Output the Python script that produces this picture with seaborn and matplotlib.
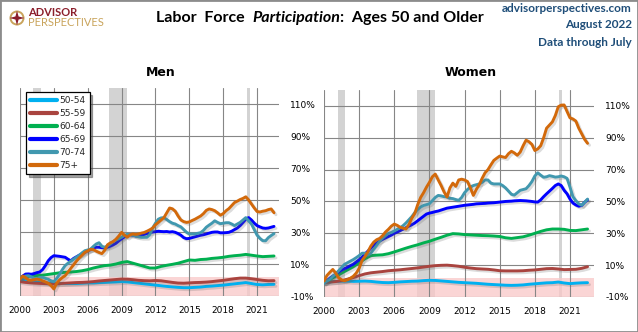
import numpy as np
import pandas as pd
import matplotlib
matplotlib.use("Agg")
import matplotlib.pyplot as plt
import matplotlib.patheffects as pe
from matplotlib.lines import Line2D
from matplotlib.patches import Circle, Polygon, Rectangle
import seaborn as sns

# ---------------------------------------------------------------------------
# Data: cumulative change in labor force participation since January 2000 (%)
# ---------------------------------------------------------------------------
quarters = pd.date_range("2000-01-01", "2022-07-01", freq="QS")   # 91 points
halves = pd.date_range("2000-01-01", "2022-07-01", freq="6MS")    # 46 points

age_groups = ["50-54", "55-59", "60-64", "65-69", "70-74", "75+"]
year_ticks = [2000, 2003, 2006, 2009, 2012, 2015, 2018, 2021]
pct_ticks = [-10, 10, 30, 50, 70, 90, 110]
recessions = [(2001.17, 2001.83), (2007.92, 2009.45), (2020.08, 2020.33)]

# Men, semiannual
men_50_54 = [0.0, -0.5, -0.8, -1.2, -1.5, -1.8, -2.0, -2.1, -2.2, -2.2,
             -2.2, -2.0, -1.8, -1.8, -1.6, -1.5, -1.3, -1.2, -1.0, -1.2,
             -1.6, -2.0, -2.4, -2.8, -3.2, -3.6, -4.0, -4.3, -4.6, -4.8,
             -4.8, -4.6, -4.4, -4.0, -3.8, -3.5, -3.2, -2.8, -2.4, -2.0,
             -1.6, -2.2, -2.8, -3.0, -2.8, -2.7]
men_55_59 = [-1.0, -1.5, -1.8, -2.0, -2.2, -2.3, -2.5, -2.3, -2.0, -1.8,
             -1.6, -1.5, -1.3, -1.0, -0.6, -0.3, 0.0, 0.3, 0.6, 0.5,
             0.2, -0.2, -0.4, -0.5, -0.3, -0.5, -1.0, -1.5, -1.9, -2.0,
             -1.8, -1.6, -1.5, -1.3, -1.0, -0.6, -0.2, 0.3, 0.8, 1.2,
             1.2, 0.8, 0.3, -0.2, -0.5, -0.4]
men_60_64 = [1.5, 2.0, 2.5, 2.8, 3.0, 3.5, 4.0, 4.5, 4.8, 5.0,
             5.3, 5.8, 6.5, 7.5, 8.3, 9.0, 9.3, 10.0, 11.0, 11.5,
             10.5, 9.5, 8.5, 7.5, 7.5, 8.5, 9.2, 9.8, 10.5, 11.5,
             12.5, 12.3, 12.8, 13.0, 13.5, 13.8, 14.2, 14.8, 15.2, 15.5,
             16.0, 15.5, 15.0, 14.6, 14.8, 15.0]

# Men, quarterly
men_65_69 = [1.0, 2.5, 3.7, 3.8, 3.6, 4.0, 4.6, 5.0,
             6.5, 9.0, 12.0, 14.0, 15.2, 15.0, 14.8, 14.5,
             14.2, 13.0, 12.0, 13.5, 14.5, 15.5, 16.3, 17.3,
             18.3, 19.0, 20.0, 20.5, 20.5, 20.2, 20.0, 20.5,
             21.2, 22.0, 23.0, 24.5, 25.8, 27.0, 28.0, 28.3,
             28.0, 27.5, 27.5, 28.0, 28.5, 29.0, 29.5, 30.0,
             30.2, 30.5, 30.3, 30.2, 30.3, 30.0, 30.2, 29.8,
             29.0, 28.0, 26.5, 25.8, 26.0, 26.5, 27.0, 27.5,
             28.0, 28.3, 28.8, 29.3, 29.8, 30.0, 30.0, 29.5,
             29.5, 29.6, 29.8, 30.5, 31.5, 32.5, 34.0, 36.0,
             38.0, 39.0, 37.5, 35.5, 34.0, 33.2, 32.5, 32.3,
             32.5, 33.0, 33.5]
men_70_74 = [1.5, 2.0, 2.5, 2.7, 2.0, 1.0, 0.8, 1.5,
             1.7, 1.0, 0.5, -0.5, -1.0, 1.0, 3.5, 6.5,
             9.0, 10.5, 11.8, 13.0, 14.3, 15.5, 17.0, 18.3,
             18.8, 19.3, 21.0, 22.5, 23.3, 21.0, 20.5, 21.3,
             22.5, 24.0, 25.0, 25.8, 26.7, 27.8, 28.6, 28.3,
             28.0, 27.5, 27.0, 26.7, 26.7, 26.7, 28.5, 32.5,
             35.5, 38.0, 38.8, 39.0, 37.8, 36.5, 35.5, 35.0,
             34.0, 33.2, 31.5, 29.8, 28.8, 28.8, 28.8, 29.2,
             29.6, 31.0, 33.0, 34.3, 35.5, 37.0, 36.0, 35.2,
             35.5, 35.8, 35.8, 35.0, 34.0, 35.0, 36.0, 37.5,
             39.0, 37.0, 35.0, 31.5, 28.0, 26.0, 24.6, 24.5,
             26.5, 27.8, 29.0]
men_75_plus = [0.6, 2.5, 1.5, 0.0, -0.2, 0.2, 0.6, 0.2,
               -0.5, -1.2, -2.0, -3.5, -5.6, -2.0, 0.0, 1.5,
               2.7, 5.0, 7.3, 9.5, 11.8, 13.8, 15.5, 17.3,
               18.2, 19.2, 19.0, 18.0, 17.2, 16.5, 18.5, 22.0,
               23.2, 24.0, 25.5, 27.5, 29.8, 28.0, 26.8, 28.2,
               28.8, 28.5, 28.8, 29.3, 29.7, 30.5, 31.4, 32.5,
               34.5, 36.0, 37.5, 39.0, 42.0, 45.0, 44.5, 43.0,
               40.0, 37.5, 36.5, 36.0, 36.3, 37.2, 38.0, 39.0,
               40.0, 41.5, 43.5, 44.4, 44.0, 43.3, 42.0, 40.5,
               41.5, 43.3, 44.6, 46.5, 48.4, 49.3, 50.3, 51.0,
               52.0, 50.0, 47.5, 45.0, 42.8, 42.5, 43.0, 43.3,
               44.0, 44.4, 42.0]

# Women, semiannual
women_50_54 = [-1.0, -0.5, -0.2, 0.0, 0.0, -0.2, -0.1, 0.0, -0.2, -0.6,
               -0.9, -1.0, -0.8, -0.5, -0.3, -0.1, 0.0, 0.3, 0.5, 0.4,
               0.1, -0.2, -0.5, -0.8, -1.0, -1.2, -1.4, -1.7, -2.0, -2.2,
               -2.4, -2.6, -2.7, -2.6, -2.4, -2.0, -1.7, -1.4, -1.1, -1.0,
               -0.6, -1.2, -1.6, -1.3, -1.1, -1.0]
women_55_59 = [-1.0, -0.6, -0.3, 0.2, 1.2, 2.2, 3.4, 4.5, 5.2, 5.6,
               6.0, 6.5, 6.8, 7.1, 7.5, 7.9, 8.3, 8.8, 9.3, 9.7,
               9.9, 10.0, 9.7, 9.3, 8.7, 8.2, 7.8, 7.6, 7.4, 7.0,
               6.5, 6.4, 6.4, 6.4, 6.5, 6.8, 7.0, 7.4, 7.8, 7.9,
               7.6, 7.2, 7.3, 7.4, 8.0, 9.0]
women_60_64 = [-1.0, 1.0, 3.0, 5.0, 7.0, 9.0, 11.5, 14.0, 16.0, 16.3,
               16.5, 17.2, 18.3, 19.5, 20.7, 21.8, 22.8, 24.0, 25.0, 26.3,
               27.5, 28.8, 29.8, 29.6, 29.2, 29.0, 28.8, 28.6, 28.5, 28.3,
               28.0, 27.2, 26.8, 27.3, 27.8, 28.8, 30.0, 31.2, 32.2, 32.7,
               32.7, 32.5, 31.8, 31.7, 32.2, 32.7]

# Women, quarterly
women_65_69 = [-1.0, 0.2, 1.8, 3.1, 4.3, 5.8, 6.9, 7.8,
               8.7, 9.7, 10.6, 12.0, 13.4, 15.0, 17.0, 18.8,
               20.7, 22.5, 24.0, 25.2, 26.2, 27.1, 28.0, 28.9,
               30.0, 30.8, 31.7, 32.6, 33.5, 34.5, 35.4, 36.5,
               37.9, 39.3, 40.7, 42.1, 42.7, 43.1, 43.6, 44.0,
               44.6, 45.2, 45.8, 46.1, 46.4, 46.7, 47.0, 47.3,
               47.6, 47.8, 48.0, 48.2, 48.5, 48.6, 48.7, 48.8,
               49.0, 49.1, 49.2, 49.4, 49.6, 49.8, 50.0, 50.1,
               50.2, 50.4, 50.5, 50.6, 50.5, 50.4, 50.2, 50.0,
               49.7, 49.6, 51.0, 53.0, 54.8, 56.5, 58.2, 60.0,
               61.0, 60.0, 57.0, 54.8, 51.5, 49.0, 47.8, 47.0,
               47.5, 49.5, 51.0]
women_70_74 = [-1.5, 0.0, 1.2, 3.0, 4.5, 6.5, 8.5, 10.5,
               11.5, 12.5, 13.5, 14.7, 16.0, 17.5, 17.5, 16.3,
               17.5, 20.0, 22.5, 25.0, 27.0, 28.5, 30.0, 30.5,
               31.5, 32.5, 33.5, 34.8, 36.5, 38.5, 40.5, 43.0,
               45.0, 46.5, 47.5, 48.0, 48.6, 50.5, 52.5, 53.8,
               53.5, 53.0, 52.8, 52.0, 51.8, 51.2, 50.7, 52.5,
               55.5, 57.5, 59.0, 60.0, 60.5, 61.0, 62.0, 63.5,
               63.5, 61.5, 61.0, 61.0, 61.0, 60.0, 58.5, 56.5,
               54.5, 54.0, 55.5, 57.0, 57.5, 58.0, 60.0, 62.5,
               66.0, 68.0, 66.5, 65.2, 65.5, 66.2, 65.8, 65.3,
               65.5, 66.0, 65.5, 64.5, 59.0, 53.0, 50.5, 48.5,
               47.6, 49.5, 51.5]
women_75_plus = [0.0, 3.5, 5.5, 7.3, 5.0, 2.0, 0.8, 0.2,
                 0.8, 1.8, 3.0, 5.0, 8.0, 13.0, 15.5, 18.5,
                 22.0, 24.5, 26.0, 26.8, 28.5, 30.8, 32.5, 34.5,
                 35.8, 35.0, 33.8, 33.2, 32.7, 35.5, 39.5, 42.5,
                 48.0, 52.5, 55.5, 59.0, 62.0, 65.5, 67.2, 63.5,
                 60.0, 56.0, 52.8, 58.5, 61.5, 59.5, 63.5, 64.0,
                 63.5, 62.5, 58.5, 53.8, 57.5, 60.5, 64.5, 68.0,
                 70.0, 73.0, 75.8, 77.2, 78.5, 78.0, 77.6, 80.0,
                 81.5, 80.5, 79.0, 81.0, 85.0, 88.5, 87.5, 85.8,
                 82.0, 83.0, 85.0, 90.0, 96.0, 98.0, 100.0, 104.0,
                 109.5, 110.5, 110.6, 106.5, 102.5, 101.8, 100.5, 96.0,
                 92.5, 89.0, 86.5]

palette = {"50-54": "#00B0F0", "55-59": "#A9443F", "60-64": "#00B050",
           "65-69": "#0000FF", "70-74": "#4198AF", "75+": "#D2690B"}


def decimal_year(dates):
    return dates.year + (dates.month - 1) / 12.0


def panel_frame(series):
    frames = []
    for label, dates, values in series:
        frames.append(pd.DataFrame({"year": decimal_year(dates),
                                    "change": values, "age": label}))
    return pd.concat(frames, ignore_index=True)


men = panel_frame([("50-54", halves, men_50_54), ("55-59", halves, men_55_59),
                   ("60-64", halves, men_60_64), ("65-69", quarters, men_65_69),
                   ("70-74", quarters, men_70_74), ("75+", quarters, men_75_plus)])
women = panel_frame([("50-54", halves, women_50_54), ("55-59", halves, women_55_59),
                     ("60-64", halves, women_60_64), ("65-69", quarters, women_65_69),
                     ("70-74", quarters, women_70_74), ("75+", quarters, women_75_plus)])

# ---------------------------------------------------------------------------
# Figure
# ---------------------------------------------------------------------------
sns.set_theme(style="white")
plt.rcParams["font.family"] = ["DejaVu Sans"]

W, H = 638, 332
fig = plt.figure(figsize=(W / 100, H / 100), dpi=100)
fig.patch.set_facecolor("white")

ax_m = fig.add_axes([20 / W, 36 / H, 259 / W, 208 / H])
ax_w = fig.add_axes([324 / W, 35 / H, 270 / W, 207 / H])

shadow = [pe.SimpleLineShadow(offset=(1.4, -1.4), shadow_color="#606060", alpha=0.22),
          pe.Normal()]

for ax, df, xmax in [(ax_m, men, 2022.94), (ax_w, women, 2023.05)]:
    for start, end in recessions:
        ax.axvspan(start, end, color="#D3D3D3", lw=0, zorder=0.1)
    ax.axhspan(-10, 2, color="#F9C8C8", alpha=0.75, lw=0, zorder=0.2)

    sns.lineplot(data=df, x="year", y="change", hue="age", hue_order=age_groups,
                 palette=palette, linewidth=2.1, estimator=None, legend=False,
                 ax=ax, zorder=3)
    for line in ax.lines:
        line.set_path_effects(shadow)
        line.set_solid_capstyle("round")
        line.set_solid_joinstyle("round")

    ax.set_xlim(2000, xmax)
    ax.set_ylim(-10, 120)
    ax.set_xticks(year_ticks)
    ax.set_xticklabels([str(y) for y in year_ticks])
    ax.set_yticks(pct_ticks)
    ax.set_yticklabels([f"{v}%" for v in pct_ticks])
    ax.yaxis.tick_right()
    ax.tick_params(axis="both", length=0, labelsize=6.5, labelcolor="black")
    ax.tick_params(axis="x", pad=7)
    ax.tick_params(axis="y", pad=8)
    ax.grid(True, color="#868686", lw=0.8)
    ax.set_axisbelow(True)
    for spine in ax.spines.values():
        spine.set_visible(False)
    ax.set_xlabel("")
    ax.set_ylabel("")
    ax.set_facecolor("white")

# Panel titles
fig.text(161 / W, 1 - 72 / H, "Men", ha="center", va="center",
         fontsize=9, fontweight="bold", color="black")
fig.text(471 / W, 1 - 73 / H, "Women", ha="center", va="center",
         fontsize=9, fontweight="bold", color="black")

# Legend
handles = [Line2D([], [], color=palette[a], lw=3, solid_capstyle="round")
           for a in age_groups]
leg = ax_m.legend(handles, age_groups, loc="upper left",
                  bbox_to_anchor=(26 / W, 1 - 92 / H), bbox_transform=fig.transFigure,
                  frameon=True, fancybox=False, shadow=True, framealpha=1,
                  edgecolor="black", fontsize=6.5, handlelength=3.0,
                  handletextpad=0.25, labelspacing=0.45, borderpad=0.45,
                  borderaxespad=0)
leg.get_frame().set_linewidth(0.9)
leg.set_zorder(10)

# Main title, with the italic word set as its own run
renderer = fig.canvas.get_renderer()
pieces = [("Labor  Force", "normal", 7), ("Participation", "italic", 0),
          (":  Ages 50 and Older", "normal", 0)]
runs = []
for text, style, gap in pieces:
    t = fig.text(0, 1 - 18 / H, text, ha="left", va="center", fontsize=11.5,
                 fontweight="bold", fontstyle=style, family="Lato", color="black")
    runs.append((t, gap))
widths = [t.get_window_extent(renderer).width for t, _ in runs]
total = sum(widths) + sum(g for _, g in runs)
x = 320 - total / 2
for (t, gap), w in zip(runs, widths):
    t.set_x(x / W)
    x += w + gap

# Source block, top right
navy = "#1F4E79"
for txt, y in [("advisorperspectives.com", 9), ("August 2022", 25), ("Data through July", 42)]:
    fig.text(632 / W, 1 - y / H, txt, ha="right", va="center", fontsize=8.5,
             fontweight="bold", family="Lato", color=navy)

# Brand mark, top left
gold = "#C9A45C"
maroon = "#8B1E2B"
cx, cy, r = 0.17, (H - 18) / 100, 0.065
fig.add_artist(Circle((cx, cy), r, transform=fig.dpi_scale_trans,
                      facecolor="none", edgecolor=gold, lw=1.4))
star = []
for k in range(8):
    ang = np.pi / 2 + k * np.pi / 4
    rad = 0.075 if k % 2 == 0 else 0.022
    star.append((cx + rad * np.cos(ang), cy + rad * np.sin(ang)))
fig.add_artist(Polygon(star, closed=True, transform=fig.dpi_scale_trans,
                       facecolor=maroon, edgecolor="none"))
fig.text(28 / W, 1 - 13 / H, "ADVISOR", ha="left", va="center", fontsize=8,
         fontweight="bold", family="Lato", color=maroon)
fig.text(28 / W, 1 - 23 / H, "PERSPECTIVES", ha="left", va="center", fontsize=8,
         family="Lato", color=gold)

# Outer frame
fig.add_artist(Rectangle((0, 0), 1, 1, transform=fig.transFigure, fill=False,
                         edgecolor="#8C8C8C", lw=2))

fig.savefig("out.png", dpi=100, facecolor="white")
